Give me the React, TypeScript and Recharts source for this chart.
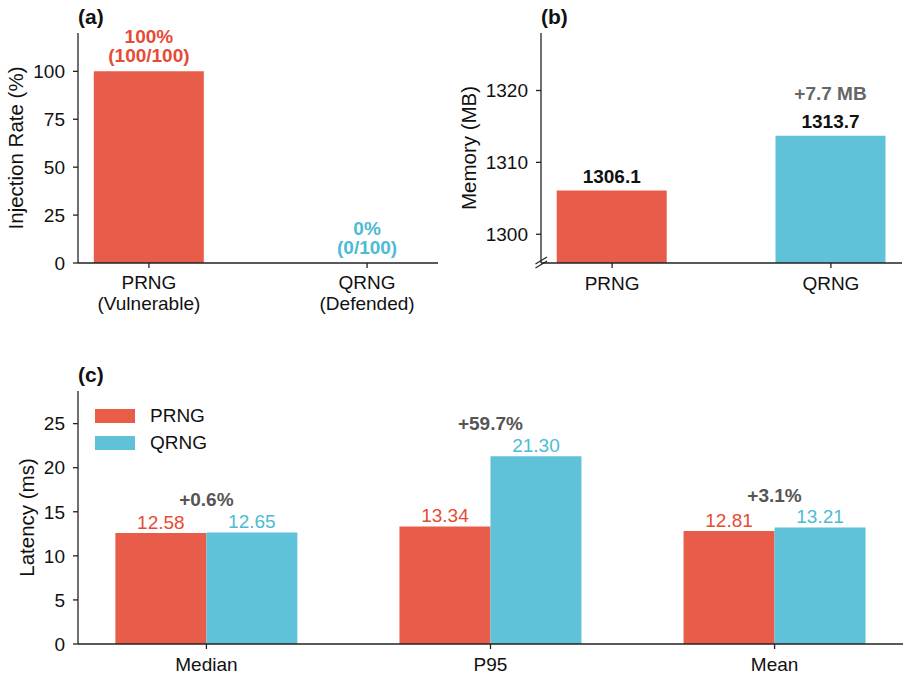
import React from 'react'
import { ComposedChart, BarChart, Bar, Scatter, XAxis, YAxis, LabelList, Cell, Legend, Label } from 'recharts'

const FONT = '"Liberation Sans", Arial, Helvetica, sans-serif'
const RED = '#E85D49'
const BLUE = '#5FC2D9'
const RED_TEXT = '#E64B35'
const BLUE_TEXT = '#4DBBD5'
const AXIS = '#222'
const FS = 19

// (a) injection rate
const rngNames = ['PRNG', 'QRNG']
const injectionSubtitles = ['(Vulnerable)', '(Defended)']
const injectionRate = [100, 0]
const injectionCounts = ['(100/100)', '(0/100)']
const injectionTicks = [0, 25, 50, 75, 100]

// (b) memory
const memoryMB = [1306.1, 1313.7]
const memoryDelta = ['', '+7.7 MB']
const memoryTicks = [1300, 1310, 1320]

// (c) latency
const latencyMetrics = ['Median', 'P95', 'Mean']
const prngLatency = [12.58, 13.34, 12.81]
const qrngLatency = [12.65, 21.3, 13.21]
const latencyDelta = ['+0.6%', '+59.7%', '+3.1%']
const latencyTicks = [0, 5, 10, 15, 20, 25]

const barColors = [RED, BLUE]
const textColors = [RED_TEXT, BLUE_TEXT]

const injectionData = rngNames.map((name, i) => ({ x: i, name, rate: injectionRate[i] }))
const memoryData = rngNames.map((name, i) => ({ x: i, name, mem: memoryMB[i] }))
const latencyData = latencyMetrics.map((name, i) => ({
  x: i,
  name,
  prng: prngLatency[i],
  qrng: qrngLatency[i],
}))

const tickStyle = { fontSize: FS, fill: '#111', fontFamily: FONT }

function yTitle(value: string, cx: number) {
  return (props: any) => {
    const vb = props.viewBox
    const x = vb.x + cx
    const y = vb.y + vb.height / 2
    return (
      <text
        x={x}
        y={y}
        transform={`rotate(-90 ${x} ${y})`}
        textAnchor="middle"
        dominantBaseline="central"
        fontSize={20.5}
        fontFamily={FONT}
        fill="#111"
      >
        {value}
      </text>
    )
  }
}

function TwoLineTick({ x, y, payload }: any) {
  const i = payload.value
  return (
    <text x={x} y={y} textAnchor="middle" fontSize={FS} fontFamily={FONT} fill="#111">
      <tspan x={x} dy={19}>{rngNames[i]}</tspan>
      <tspan x={x} dy={20.5}>{injectionSubtitles[i]}</tspan>
    </text>
  )
}

// labels drawn at each bar top (works for the zero-height bar too)
function InjectionLabel({ cx, cy, payload }: any) {
  const i = payload.x
  const c = textColors[i]
  return (
    <g fontFamily={FONT} fontSize={FS} fontWeight="bold" fill={c} textAnchor="middle">
      <text x={cx} y={cy - 28.5}>{`${injectionRate[i]}%`}</text>
      <text x={cx} y={cy - 9}>{injectionCounts[i]}</text>
    </g>
  )
}

function MemoryLabel({ x, y, width, index }: any) {
  const cx = x + width / 2
  return (
    <g fontFamily={FONT} fontSize={FS} fontWeight="bold" textAnchor="middle">
      <text x={cx} y={y - 7.5} fill="#111">{memoryMB[index].toFixed(1)}</text>
      {memoryDelta[index] && (
        <text x={cx} y={y - 36} fill="#666">{memoryDelta[index]}</text>
      )}
    </g>
  )
}

function latencyLabel(color: string) {
  return ({ x, y, width, value }: any) => (
    <text x={x + width / 2} y={y - 4.5} textAnchor="middle" fontSize={FS} fontFamily={FONT} fill={color}>
      {Number(value).toFixed(2)}
    </text>
  )
}

function DeltaLabel({ x, y, height, index }: any) {
  const top = Math.max(prngLatency[index], qrngLatency[index])
  const topY = y + height - (height * top) / qrngLatency[index]
  return (
    <text x={x} y={topY - 26} textAnchor="middle" fontSize={FS} fontFamily={FONT} fontWeight="bold" fill="#555">
      {latencyDelta[index]}
    </text>
  )
}

function LatencyLegend({ payload }: any) {
  return (
    <div style={{ fontFamily: FONT, fontSize: FS, color: '#111' }}>
      {(payload || []).map((p: any) => (
        <div key={p.value} style={{ display: 'flex', alignItems: 'center', height: 27 }}>
          <div style={{ width: 40, height: 14, background: p.color, marginRight: 15 }} />
          <span>{p.value}</span>
        </div>
      ))}
    </div>
  )
}

const titleStyle: React.CSSProperties = {
  position: 'absolute',
  fontFamily: FONT,
  fontWeight: 'bold',
  fontSize: 21,
  lineHeight: '34px',
  color: '#111',
}

export default function App() {
  return (
    <div style={{ position: 'absolute', left: 0, top: 0, width: 909, height: 678, background: '#fff' }}>
      <div style={{ position: 'absolute', left: 0, top: 0 }}>
        <ComposedChart width={450} height={330} data={injectionData} margin={{ top: 33, right: 12, bottom: 7, left: 0 }}>
          <XAxis
            type="number"
            dataKey="x"
            domain={[-0.325, 1.325]}
            ticks={[0, 1]}
            height={60}
            tick={<TwoLineTick />}
            tickSize={5}
            tickMargin={2}
            stroke={AXIS}
            strokeWidth={1.3}
            interval={0}
          />
          <YAxis
            width={78}
            domain={[0, 120]}
            ticks={injectionTicks}
            tick={tickStyle}
            tickSize={5}
            tickMargin={8}
            stroke={AXIS}
            strokeWidth={1.3}
            interval={0}
          >
            <Label content={yTitle('Injection Rate (%)', 15)} />
          </YAxis>
          <Bar dataKey="rate" barSize={110} isAnimationActive={false}>
            {injectionData.map((d, i) => (
              <Cell key={d.name} fill={barColors[i]} />
            ))}
          </Bar>
          <Scatter dataKey="rate" isAnimationActive={false} shape={<InjectionLabel />} />
        </ComposedChart>
      </div>

      <div style={{ position: 'absolute', left: 450, top: 0 }}>
        <BarChart width={459} height={330} data={memoryData} margin={{ top: 33, right: 7, bottom: 7, left: 0 }}>
          <XAxis
            type="number"
            dataKey="x"
            domain={[-0.325, 1.325]}
            ticks={[0, 1]}
            allowDataOverflow
            height={60}
            tick={tickStyle}
            tickFormatter={(v: number) => rngNames[v]}
            tickSize={5}
            tickMargin={9}
            stroke={AXIS}
            strokeWidth={1.3}
            interval={0}
          />
          <YAxis
            width={91}
            domain={[1296, 1328]}
            ticks={memoryTicks}
            allowDataOverflow
            tick={tickStyle}
            tickSize={5}
            tickMargin={8}
            stroke={AXIS}
            strokeWidth={1.3}
            interval={0}
          >
            <Label content={yTitle('Memory (MB)', 18)} />
          </YAxis>
          <Bar dataKey="mem" barSize={110} isAnimationActive={false}>
            {memoryData.map((d, i) => (
              <Cell key={d.name} fill={barColors[i]} />
            ))}
            <LabelList content={<MemoryLabel />} />
          </Bar>
        </BarChart>
        <svg width={30} height={20} style={{ position: 'absolute', left: 80, top: 253 }}>
          <line x1={5.5} y1={15} x2={17} y2={8} stroke={AXIS} strokeWidth={1.2} />
          <line x1={5.5} y1={11} x2={17} y2={4} stroke={AXIS} strokeWidth={1.2} />
        </svg>
      </div>

      <div style={{ position: 'absolute', left: 0, top: 360 }}>
        <BarChart width={909} height={318} data={latencyData} barGap={0} margin={{ top: 31, right: 6, bottom: 0, left: 0 }}>
          <XAxis
            type="number"
            dataKey="x"
            domain={[-0.452, 2.452]}
            ticks={[0, 1, 2]}
            allowDataOverflow
            height={34}
            tick={tickStyle}
            tickFormatter={(v: number) => latencyMetrics[v]}
            tickSize={5}
            tickMargin={9}
            stroke={AXIS}
            strokeWidth={1.3}
            interval={0}
          />
          <YAxis
            width={78}
            domain={[0, 28.7]}
            ticks={latencyTicks}
            allowDataOverflow
            tick={tickStyle}
            tickSize={5}
            tickMargin={8}
            stroke={AXIS}
            strokeWidth={1.3}
            interval={0}
          >
            <Label content={yTitle('Latency (ms)', 26)} />
          </YAxis>
          <Legend
            layout="vertical"
            align="center"
            verticalAlign="middle"
            wrapperStyle={{ left: 95, top: 42.5, width: 'auto' }}
            content={<LatencyLegend />}
          />
          <Bar dataKey="prng" name="PRNG" fill={RED} barSize={91} isAnimationActive={false}>
            <LabelList dataKey="prng" content={latencyLabel(RED_TEXT)} />
          </Bar>
          <Bar dataKey="qrng" name="QRNG" fill={BLUE} barSize={91} isAnimationActive={false}>
            <LabelList dataKey="qrng" content={latencyLabel(BLUE_TEXT)} />
            <LabelList content={<DeltaLabel />} />
          </Bar>
        </BarChart>
      </div>

      <div style={{ ...titleStyle, left: 78, top: 0 }}>(a)</div>
      <div style={{ ...titleStyle, left: 541, top: 0 }}>(b)</div>
      <div style={{ ...titleStyle, left: 78, top: 358 }}>(c)</div>
    </div>
  )
}
